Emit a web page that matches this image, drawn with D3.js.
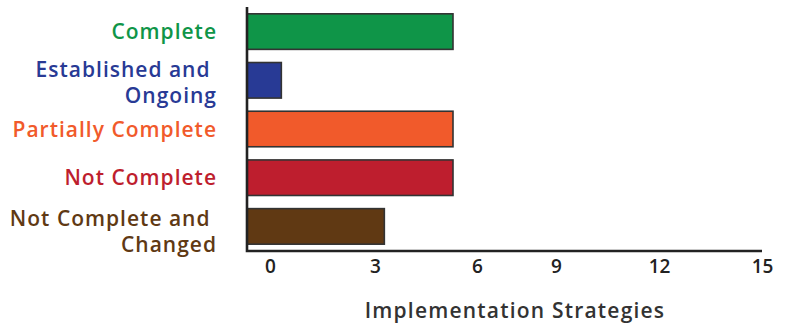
<!DOCTYPE html>
<html>
<head>
<meta charset="utf-8">
<script src="https://cdn.jsdelivr.net/npm/d3@7"></script>
<style>
  html, body { margin: 0; padding: 0; background: #fff; }
  svg { display: block; }
  text { font-family: "Open Sans", "Lato", sans-serif; font-weight: 600; }
</style>
</head>
<body>
<svg id="chart" width="785" height="325"></svg>
<script>
// Status categories (label lines) and how many strategies fall in each
const categories = ["Complete", "Established and Ongoing", "Partially Complete", "Not Complete", "Not Complete and Changed"];
const labelLines = [["Complete"], ["Established and\u00a0", "Ongoing"], ["Partially Complete"], ["Not Complete"], ["Not Complete and\u00a0", "Changed"]];
const counts = [6, 1, 6, 6, 4];
const colors = ["#0f9548", "#283a95", "#f15a2b", "#be1e2e", "#603913"];
const tickValues = [0, 3, 6, 9, 12, 15];
const axisTitle = "Implementation Strategies";

const svg = d3.select("#chart");
const x0 = 247, x1 = 762, yTop = 7, yBase = 251;

const x = d3.scaleLinear().domain([0, 15]).range([x0, x1]);
const y = d3.scaleBand().domain(categories).range([yTop, yBase])
  .paddingInner(0.27).paddingOuter(0.14);

// Bars
svg.append("g").selectAll("rect")
  .data(categories)
  .join("rect")
  .attr("x", x(0))
  .attr("y", d => y(d))
  .attr("width", (d, i) => x(counts[i]) - x(0))
  .attr("height", y.bandwidth())
  .attr("fill", (d, i) => colors[i])
  .attr("stroke", "#333")
  .attr("stroke-width", 1.6);

// Category labels, right-aligned and coloured like their bars
const lineGap = 26.5;
const lab = svg.append("g").attr("text-anchor", "end")
  .attr("font-size", 21).attr("letter-spacing", 1);
categories.forEach((c, i) => {
  const lines = labelLines[i];
  const cy = y(c) + y.bandwidth() / 2;
  const first = cy + 7.5 - (lines.length - 1) * lineGap / 2 + (lines.length > 1 ? 2 : 0)
    + (i === categories.length - 1 ? 3 : 0);
  const t = lab.append("text").attr("fill", colors[i]).attr("xml:space", "preserve");
  lines.forEach((ln, j) => {
    t.append("tspan").attr("x", 217).attr("y", first + j * lineGap).text(ln);
  });
});

// X axis
const xAxis = d3.axisBottom(x).tickValues(tickValues).tickSize(0).tickFormat(d3.format("d"));
const gx = svg.append("g").attr("transform", `translate(0,${yBase})`).call(xAxis);
gx.select(".domain").remove();
// the first few numbers sit a little to the right of their gridpoints
const labelNudge = { 0: 23, 3: 25, 6: 24 };
gx.selectAll(".tick text")
  .attr("y", 22).attr("dy", 0)
  .attr("dx", d => labelNudge[d] || 0)
  .attr("fill", "#222")
  .attr("font-size", 19)
  .attr("font-family", "'Open Sans', sans-serif")
  .attr("font-weight", 600);

// Axis lines
svg.append("path")
  .attr("d", `M${x0},${yTop}V${yBase}H${x1}`)
  .attr("fill", "none")
  .attr("stroke", "#222")
  .attr("stroke-width", 2.6);

// Axis title
svg.append("text")
  .attr("x", 515).attr("y", 318)
  .attr("text-anchor", "middle")
  .attr("font-size", 21)
  .attr("letter-spacing", 1.2)
  .attr("fill", "#333")
  .text(axisTitle);
</script>
</body>
</html>
